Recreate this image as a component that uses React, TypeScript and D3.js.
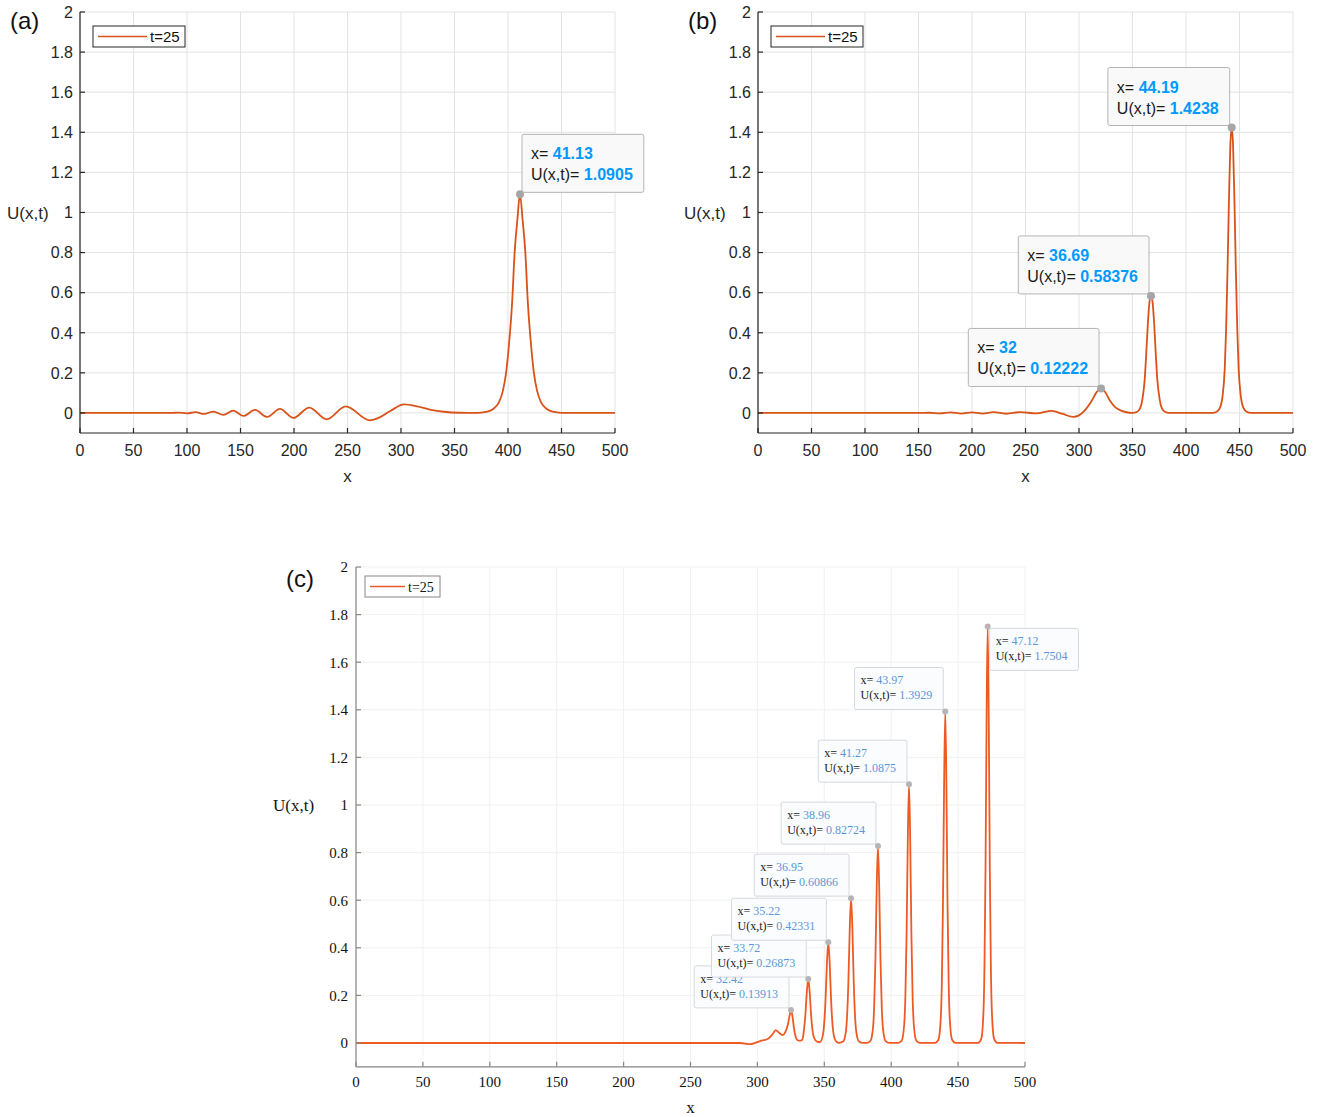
import React from 'react';
import * as d3 from 'd3';

// ---------------- data ----------------
const xTicks = [0, 50, 100, 150, 200, 250, 300, 350, 400, 450, 500];
const yTicks = [0, 0.2, 0.4, 0.6, 0.8, 1, 1.2, 1.4, 1.6, 1.8, 2];
const yTickLabels = ['0', '0.2', '0.4', '0.6', '0.8', '1', '1.2', '1.4', '1.6', '1.8', '2'];
const legendLabel = 't=25';
const xLabel = 'x';
const yLabel = 'U(x,t)';
const panelLabels = ['(a)', '(b)', '(c)'];

const curveA: [number, number][] = [
  [0, 0], [60, 0], [85, 0], [92, 0.002], [100, -0.002], [108, 0.004], [116, -0.005],
  [124.6, 0.007], [134, -0.01], [143.3, 0.012], [152.6, -0.015], [163.6, 0.015], [175, -0.02],
  [186.9, 0.02], [199.4, -0.025], [214.3, 0.027], [230.5, -0.032], [248.3, 0.033], [271, -0.037],
  [280, -0.022], [290, 0.01], [303, 0.043], [315, 0.033], [327, 0.017], [340, 0.006], [355, 0.001],
  [371.2, 0], [379.2, 0.005], [386.2, 0.02], [391.2, 0.05], [395.2, 0.11], [398.2, 0.2], [401.2, 0.36],
  [403.8, 0.545], [406.2, 0.8], [408.7, 0.96], [411.2, 1.0905], [413.7, 0.96], [416.2, 0.8],
  [418.6, 0.545], [421.2, 0.36], [424.2, 0.2], [427.2, 0.11], [431.2, 0.05], [436.2, 0.02],
  [443.2, 0.005], [451.2, 0], [500, 0],
];

const curveB: [number, number][] = [
  [0, 0], [150, 0], [160, 0.001], [170, -0.002], [180, 0.003], [190, -0.003], [200, 0.003],
  [210, -0.003], [220, 0.004], [232, -0.004], [245, 0.004], [260, -0.002], [274.5, 0.01],
  [285, -0.005], [294.6, -0.02], [300, -0.012], [305, 0.01], [311.9, 0.061], [316, 0.1],
  [320.6, 0.12222], [325, 0.1], [329, 0.061], [334, 0.028], [340, 0.01], [347, 0.001],
  [350.3, 0], [354.3, 0.006], [357.3, 0.025], [359.3, 0.07], [361.3, 0.16], [362.8, 0.29],
  [364.3, 0.44], [365.8, 0.55], [367.3, 0.58376], [368.8, 0.55], [370.3, 0.44], [371.8, 0.29],
  [373.3, 0.16], [375.3, 0.07], [377.3, 0.025], [380.3, 0.006], [384.3, 0],
  [424.7, 0], [428.7, 0.006], [431.7, 0.025], [434.2, 0.085], [436.2, 0.22], [437.5, 0.42],
  [438.8, 0.71], [440.1, 1.05], [441.4, 1.33], [442.7, 1.4238], [444.0, 1.33], [445.3, 1.05],
  [446.6, 0.71], [447.9, 0.42], [449.2, 0.22], [451.2, 0.085], [453.7, 0.025], [456.7, 0.006],
  [460.7, 0], [500, 0],
];

const curveC: [number, number][] = [
  [0, 0], [250, 0], [287, 0], [294.5, -0.005], [302, 0.008], [308, 0.018], [311.5, 0.038],
  [313.7, 0.054], [315.8, 0.045], [318.6, 0.033], [321, 0.048], [322.8, 0.078], [323.95, 0.112],
  [325.1, 0.13913], [326.25, 0.11], [327.4, 0.06], [328.55, 0.027], [329.7, 0.013], [331, 0.01],
  [332.3, 0.01], [333.6, 0.015], [334.7, 0.05], [335.8, 0.113], [336.9, 0.211], [338, 0.26873],
  [339.1, 0.211], [340.2, 0.113], [341.3, 0.049], [342.4, 0.021], [344.6, 0.006], [346.7, 0.004],
  [348.8, 0.03], [349.85, 0.077], [350.9, 0.178], [351.95, 0.333], [353, 0.42331], [354.05, 0.333],
  [355.1, 0.178], [356.15, 0.077], [357.2, 0.03], [359.3, 0.004], [361, 0.0005], [364, 0.006],
  [366, 0.043], [367, 0.11], [368, 0.256], [369, 0.478], [370, 0.60866], [371, 0.478], [372, 0.256],
  [373, 0.11], [374, 0.043], [376, 0.006], [379, 0.0003], [381.55, 0.0004], [384.4, 0.0082],
  [386.3, 0.0585], [387.25, 0.1497], [388.2, 0.3474], [389.15, 0.6502], [390.1, 0.82724],
  [391.05, 0.6502], [392, 0.3474], [392.95, 0.1497], [393.9, 0.0585], [395.8, 0.0082],
  [398.65, 0.0004], [405.2, 0.0005], [407.9, 0.0108], [409.7, 0.0769], [410.6, 0.1968],
  [411.5, 0.4568], [412.4, 0.8548], [413.3, 1.0875], [414.2, 0.8548], [415.1, 0.4568],
  [416, 0.1968], [416.9, 0.0769], [418.7, 0.0108], [421.4, 0.0005], [432.75, 0.0007],
  [435.3, 0.0138], [437, 0.0985], [437.85, 0.2521], [438.7, 0.585], [439.55, 1.0948],
  [440.4, 1.3929], [441.25, 1.0948], [442.1, 0.585], [442.95, 0.2521], [443.8, 0.0985],
  [445.5, 0.0138], [448.05, 0.0007], [464.9, 0.0009], [467.3, 0.0173], [468.9, 0.124],
  [469.7, 0.317], [470.5, 0.735], [471.3, 1.376], [472.1, 1.7504], [472.9, 1.376], [473.7, 0.735],
  [474.5, 0.317], [475.3, 0.124], [476.9, 0.0173], [479.3, 0.0009], [500, 0],
];

type Tip = { x: number; u: number; xText: string; uText: string; place: string };

const tipsA: Tip[] = [
  { x: 411.2, u: 1.0905, xText: '41.13', uText: '1.0905', place: 'ur' },
];
const tipsB: Tip[] = [
  { x: 320.6, u: 0.12222, xText: '32', uText: '0.12222', place: 'ul' },
  { x: 367.3, u: 0.58376, xText: '36.69', uText: '0.58376', place: 'ul' },
  { x: 442.7, u: 1.4238, xText: '44.19', uText: '1.4238', place: 'ul' },
];
const tipsC: Tip[] = [
  { x: 325.1, u: 0.13913, xText: '32.42', uText: '0.13913', place: 'ul' },
  { x: 338, u: 0.26873, xText: '33.72', uText: '0.26873', place: 'ul' },
  { x: 353, u: 0.42331, xText: '35.22', uText: '0.42331', place: 'ul' },
  { x: 370, u: 0.60866, xText: '36.95', uText: '0.60866', place: 'ul' },
  { x: 390.1, u: 0.82724, xText: '38.96', uText: '0.82724', place: 'ul' },
  { x: 413.3, u: 1.0875, xText: '41.27', uText: '1.0875', place: 'ul' },
  { x: 440.4, u: 1.3929, xText: '43.97', uText: '1.3929', place: 'ul' },
  { x: 472.1, u: 1.7504, xText: '47.12', uText: '1.7504', place: 'dr' },
];

// ---------------- styles / layout ----------------
const SANS = "'Liberation Sans', Arial, Helvetica, sans-serif";
const SERIF = "'Liberation Serif', 'Times New Roman', Times, serif";

type Style = {
  font: string; tickSize: number; labelSize: number; axisColor: string; tickColor: string;
  gridColor: string; lineColor: string; lineWidth: number;
  tipSize: number; tipBold: boolean; tipValColor: string; tipH: number; tipPadL: number; tipPadExtra: number;
  tipL1: number; tipL2: number; tipFill: string; tipStroke: string; markerR: number; markerColor: string;
  legendSize: number; legendLine: number; panelLabelSize: number; yTickGap: number; legendStroke: string;
};

const styleAB: Style = {
  font: SANS, tickSize: 16, labelSize: 17, axisColor: '#262626', tickColor: '#262626',
  gridColor: '#e3e3e3', lineColor: '#D95319', lineWidth: 1.8,
  tipSize: 16, tipBold: true, tipValColor: '#0099FF', tipH: 58, tipPadL: 9, tipPadExtra: 20,
  tipL1: 25, tipL2: 46, tipFill: '#f9f9f9', tipStroke: '#b4b4b4', markerR: 4, markerColor: '#a6a6a6',
  legendSize: 15, legendLine: 49, panelLabelSize: 24, yTickGap: 7, legendStroke: '#262626',
};
const styleC: Style = {
  font: SERIF, tickSize: 15, labelSize: 17, axisColor: '#8a8583', tickColor: '#111',
  gridColor: '#f1f1f1', lineColor: '#EE5A24', lineWidth: 1.8,
  tipSize: 12, tipBold: false, tipValColor: '#5b97d6', tipH: 42, tipPadL: 6, tipPadExtra: 17,
  tipL1: 17, tipL2: 32, tipFill: '#fbfcfe', tipStroke: '#d4d8de', markerR: 3, markerColor: '#b5b5b5',
  legendSize: 14, legendLine: 35, panelLabelSize: 24, yTickGap: 8, legendStroke: '#8a8583',
};

type Panel = {
  label: string; labelX: number; labelY: number; x0: number; x1: number; yTop: number; yBot: number;
  yLabelX: number; xTickY: number; xLabelY: number; legend: { x: number; y: number; w: number; h: number };
  curve: [number, number][]; tips: Tip[]; style: Style;
};

const panels: Panel[] = [
  { label: panelLabels[0], labelX: 10, labelY: 29, x0: 80, x1: 615, yTop: 12, yBot: 433,
    yLabelX: 7, xTickY: 456, xLabelY: 482, legend: { x: 93, y: 26, w: 92, h: 21 },
    curve: curveA, tips: tipsA, style: styleAB },
  { label: panelLabels[1], labelX: 688, labelY: 29, x0: 758, x1: 1293, yTop: 12, yBot: 433,
    yLabelX: 684, xTickY: 456, xLabelY: 482, legend: { x: 771, y: 26, w: 92, h: 21 },
    curve: curveB, tips: tipsB, style: styleAB },
  { label: panelLabels[2], labelX: 286, labelY: 587, x0: 356, x1: 1025, yTop: 567, yBot: 1066.8,
    yLabelX: 273, xTickY: 1087, xLabelY: 1113, legend: { x: 365, y: 576, w: 75, h: 21 },
    curve: curveC, tips: tipsC, style: styleC },
];

let ctx: CanvasRenderingContext2D | null = null;
function textWidth(t: string, font: string): number {
  if (!ctx) ctx = document.createElement('canvas').getContext('2d');
  if (!ctx) return t.length * 8;
  ctx.font = font;
  return ctx.measureText(t).width;
}

function PanelView({ p }: { p: Panel }) {
  const s = p.style;
  const xs = d3.scaleLinear().domain([0, 500]).range([p.x0, p.x1]);
  const ys = d3.scaleLinear().domain([-0.1, 2]).range([p.yBot, p.yTop]);
  const line = d3.line<[number, number]>().x(d => xs(d[0])).y(d => ys(d[1])).curve(d3.curveMonotoneX);
  const tick = 5;
  const lg = p.legend;
  return (
    <g fontFamily={s.font}>
      {/* grid */}
      {xTicks.map(t => (
        <line key={'gx' + t} x1={xs(t)} x2={xs(t)} y1={p.yTop} y2={p.yBot} stroke={s.gridColor} strokeWidth={1} />
      ))}
      {yTicks.map(t => (
        <line key={'gy' + t} x1={p.x0} x2={p.x1} y1={ys(t)} y2={ys(t)} stroke={s.gridColor} strokeWidth={1} />
      ))}
      {/* curve */}
      <path d={line(p.curve) || ''} fill="none" stroke={s.lineColor} strokeWidth={s.lineWidth} strokeLinejoin="round" />
      {/* axes */}
      <line x1={p.x0} x2={p.x0} y1={p.yTop} y2={p.yBot} stroke={s.axisColor} strokeWidth={1.2} />
      <line x1={p.x0} x2={p.x1} y1={p.yBot} y2={p.yBot} stroke={s.axisColor} strokeWidth={1.2} />
      {xTicks.map(t => (
        <line key={'tx' + t} x1={xs(t)} x2={xs(t)} y1={p.yBot} y2={p.yBot - tick} stroke={s.axisColor} strokeWidth={1.2} />
      ))}
      {yTicks.map(t => (
        <line key={'ty' + t} x1={p.x0} x2={p.x0 + tick} y1={ys(t)} y2={ys(t)} stroke={s.axisColor} strokeWidth={1.2} />
      ))}
      {xTicks.map(t => (
        <text key={'lx' + t} x={xs(t)} y={p.xTickY} textAnchor="middle" fontSize={s.tickSize} fill={s.tickColor}>{t}</text>
      ))}
      {yTicks.map((t, i) => (
        <text key={'ly' + t} x={p.x0 - s.yTickGap} y={ys(t) + s.tickSize * 0.36} textAnchor="end" fontSize={s.tickSize} fill={s.tickColor}>{yTickLabels[i]}</text>
      ))}
      <text x={(p.x0 + p.x1) / 2} y={p.xLabelY} textAnchor="middle" fontSize={s.labelSize} fill={s.tickColor}>{xLabel}</text>
      <text x={p.yLabelX} y={ys(1) + s.labelSize * 0.36} fontSize={s.labelSize} fill={s.tickColor}>{yLabel}</text>
      <text x={p.labelX} y={p.labelY} fontFamily={SANS} fontSize={s.panelLabelSize} fill="#111">{p.label}</text>
      {/* legend */}
      <rect x={lg.x} y={lg.y} width={lg.w} height={lg.h} fill="#fff" stroke={s.legendStroke} strokeWidth={1} />
      <line x1={lg.x + 5} x2={lg.x + 5 + s.legendLine} y1={lg.y + lg.h / 2} y2={lg.y + lg.h / 2} stroke={s.lineColor} strokeWidth={1.6} />
      <text x={lg.x + 8 + s.legendLine} y={lg.y + lg.h / 2 + s.legendSize * 0.36} fontSize={s.legendSize} fill="#111">{legendLabel}</text>
      {/* datatips */}
      {p.tips.map((t, i) => {
        const mx = xs(t.x), my = ys(t.u);
        const fN = `${s.tipSize}px ${s.font}`;
        const fB = `${s.tipBold ? 'bold ' : ''}${s.tipSize}px ${s.font}`;
        const w1 = textWidth('x= ', fN) + textWidth(t.xText, fB);
        const w2 = textWidth('U(x,t)= ', fN) + textWidth(t.uText, fB);
        const bw = Math.max(w1, w2) + s.tipPadExtra;
        const bh = s.tipH;
        const bx = t.place === 'ur' || t.place === 'dr' ? mx + 2 : mx - 2 - bw;
        const by = t.place === 'dr' ? my + 2 : my - 2 - bh;
        return (
          <g key={'tip' + i}>
            <rect x={bx} y={by} width={bw} height={bh} rx={2} fill={s.tipFill} fillOpacity={0.97} stroke={s.tipStroke} strokeWidth={1} />
            <text x={bx + s.tipPadL} y={by + s.tipL1} fontSize={s.tipSize} fill="#1a1a1a" style={{ whiteSpace: 'pre' }}>
              <tspan>{'x= '}</tspan>
              <tspan fill={s.tipValColor} fontWeight={s.tipBold ? 'bold' : 'normal'}>{t.xText}</tspan>
            </text>
            <text x={bx + s.tipPadL} y={by + s.tipL2} fontSize={s.tipSize} fill="#1a1a1a" style={{ whiteSpace: 'pre' }}>
              <tspan>{'U(x,t)= '}</tspan>
              <tspan fill={s.tipValColor} fontWeight={s.tipBold ? 'bold' : 'normal'}>{t.uText}</tspan>
            </text>
            <circle cx={mx} cy={my} r={s.markerR} fill={s.markerColor} />
          </g>
        );
      })}
    </g>
  );
}

export default function App() {
  return (
    <svg width={1320} height={1117} style={{ position: 'absolute', left: 0, top: 0, background: '#fff' }}>
      <rect x={0} y={0} width={1320} height={1117} fill="#fff" />
      {panels.map((p, i) => <PanelView key={i} p={p} />)}
    </svg>
  );
}
